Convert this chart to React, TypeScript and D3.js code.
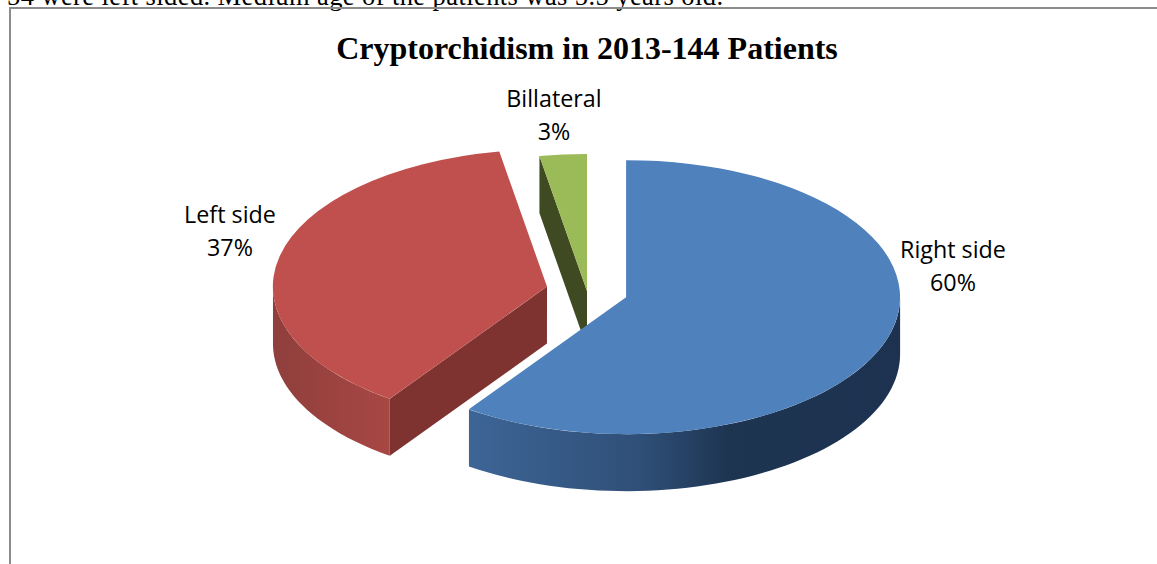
import React from "react";
import * as d3 from "d3";

const categories = ["Right side", "Left side", "Billateral"];
const patients = [86, 54, 4];
const percentLabels = ["60%", "37%", "3%"];
const exploded = [1, 1, 0];
const topColors = ["#4F81BD", "#C0504D", "#9BBB59"];
const sideStops = [
  [["0", "#3D6596"], ["0.4", "#2F4F77"], ["0.6", "#1E3552"], ["1", "#1C3250"]],
  [["0", "#8F3F3C"], ["1", "#A84744"]],
  [["0", "#3F4A22"], ["1", "#3F4A22"]],
];
const cutColors = ["#1C3250", "#7F3331", "#3F4A22"];
const labelPositions = [[953, 258], [230, 223], [554, 107]];

const W = 1157, H = 564;
const cx = 587, cy = 291, rx = 274, ry = 137, depth = 57, explode = 41;
const SERIF = "'Liberation Serif', serif";
const SANS = "'Open Sans', sans-serif";

const project = (a: number, ox: number, oy: number, dz = 0): [number, number] => [
  ox + rx * Math.sin(a),
  oy - ry * Math.cos(a) + dz,
];

function rimPath(a0: number, a1: number, ox: number, oy: number) {
  const steps = d3.range(0, 61).map((i) => a0 + ((a1 - a0) * i) / 60);
  const top = steps.map((a) => project(a, ox, oy));
  const bottom = steps.slice().reverse().map((a) => project(a, ox, oy, depth));
  return d3.line()([...top, ...bottom]) + "Z";
}

export default function App() {
  const pie = d3.pie<number>().sort(null).startAngle(0).endAngle(2 * Math.PI);
  const arcs = pie(patients);
  const arc = d3.arc<d3.PieArcDatum<number>>().innerRadius(0).outerRadius(1);
  const order = [2, 1, 0];
  return (
    <svg width={W} height={H} style={{ position: "absolute", left: 0, top: 0, background: "#fff" }}>
      <defs>
        {sideStops.map((stops, i) => {
          const ox = cx + exploded[i] * explode * Math.sin((arcs[i].startAngle + arcs[i].endAngle) / 2);
          const x0 = i === 0 ? project(arcs[0].endAngle, ox, 0)[0] : ox - rx;
          const x1 = i === 0 ? ox + rx : project(arcs[1].startAngle, ox, 0)[0];
          return (
            <linearGradient key={i} id={`side${i}`} gradientUnits="userSpaceOnUse" x1={x0} x2={x1} y1={0} y2={0}>
              {stops.map(([o, c]) => <stop key={o} offset={o} stopColor={c} />)}
            </linearGradient>
          );
        })}
      </defs>
      <text x={7} y={5} fontFamily={SERIF} fontSize={26.5} fill="#000" textLength={716} lengthAdjust="spacing">
        54 were left sided. Medium age of the patients was 5.5 years old.
      </text>
      <path d={`M10,${H}V8H${W}`} fill="none" stroke="#8C8C8C" strokeWidth={2} />
      <text x={587} y={59} textAnchor="middle" fontFamily={SERIF} fontWeight="bold" fontSize={32} fill="#000">
        Cryptorchidism in 2013-144 Patients
      </text>
      {order.map((i) => {
        const d = arcs[i];
        const mid = (d.startAngle + d.endAngle) / 2;
        const ox = cx + exploded[i] * explode * Math.sin(mid);
        const oy = cy - exploded[i] * explode * 0.5 * Math.cos(mid);
        const a0 = Math.max(d.startAngle, Math.PI / 2);
        const a1 = Math.min(d.endAngle, (3 * Math.PI) / 2);
        const cutAngle = i === 1 ? d.startAngle : i === 2 ? d.startAngle : null;
        return (
          <g key={i}>
            {cutAngle !== null && (() => {
              const [px, py] = project(cutAngle, ox, oy);
              const poly: [number, number][] = [[ox, oy], [px, py], [px, py + depth], [ox, oy + depth]];
              return <path d={d3.line()(poly) + "Z"} fill={cutColors[i]} />;
            })()}
            {a1 > a0 && <path d={rimPath(a0, a1, ox, oy)} fill={`url(#side${i})`} />}
            <path
              d={arc(d) as string}
              transform={`translate(${ox},${oy}) scale(${rx},${ry})`}
              fill={topColors[i]}
            />
          </g>
        );
      })}
      {categories.map((c, i) => (
        <text key={c} textAnchor="middle" fontFamily={SANS} fontSize={23.3} fill="#000">
          <tspan x={labelPositions[i][0]} y={labelPositions[i][1]}>{c}</tspan>
          <tspan x={labelPositions[i][0]} y={labelPositions[i][1] + 33}>{percentLabels[i]}</tspan>
        </text>
      ))}
    </svg>
  );
}
